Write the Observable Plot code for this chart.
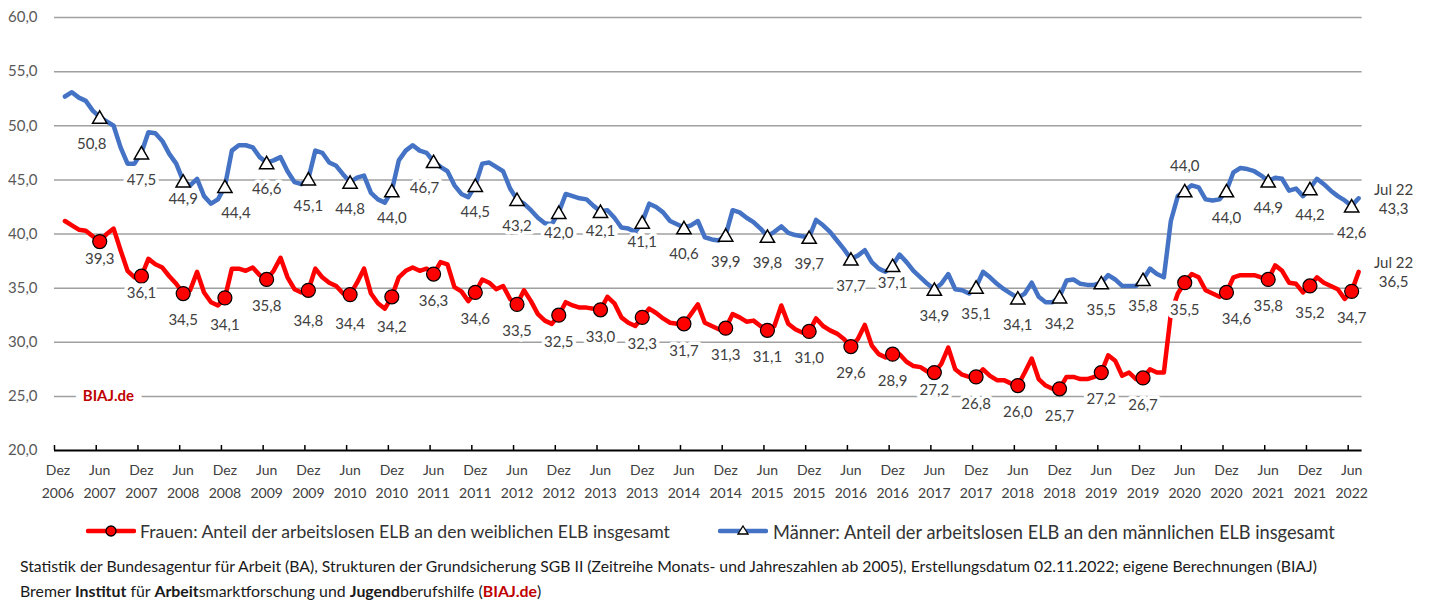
<!DOCTYPE html>
<html>
<head>
<meta charset="utf-8">
<script src="https://cdn.jsdelivr.net/npm/d3@7"></script>
<script src="https://cdn.jsdelivr.net/npm/@observablehq/plot@0.6"></script>
<style>
  html, body { margin: 0; padding: 0; background: #fff; }
  body { width: 1440px; height: 600px; overflow: hidden; position: relative; font-family: Lato, "Open Sans", sans-serif; }
  #chart { position: absolute; left: 0; top: 0; }
  .abs { position: absolute; white-space: nowrap; line-height: 1; }
  .leg { font-size: 16px; color: #333; }
  .foot { font-size: 14px; color: #1a1a1a; }
  .foot b { font-weight: 700; }
  .red { color: #c00000; }
</style>
</head>
<body>
<div id="chart"></div>
<svg class="abs" style="left:86px;top:522px" width="50" height="18">
  <line x1="2" y1="9" x2="48" y2="9" stroke="#ff0000" stroke-width="4.5" stroke-linecap="round"/>
  <circle cx="25" cy="9" r="5" fill="#ff0000" stroke="#000" stroke-width="1.3"/>
</svg>
<div id="leg1" class="abs leg" style="left:140px;top:523px">Frauen: Anteil der arbeitslosen ELB an den weiblichen ELB insgesamt</div>
<svg class="abs" style="left:718px;top:522px" width="50" height="18">
  <line x1="2" y1="9" x2="48" y2="9" stroke="#4472c4" stroke-width="4.5" stroke-linecap="round"/>
  <path d="M25,4 L30,12 L20,12 Z" fill="#fff" stroke="#000" stroke-width="1.3"/>
</svg>
<div id="leg2" class="abs leg" style="left:773px;top:523px">Männer: Anteil der arbeitslosen ELB an den männlichen ELB insgesamt</div>
<div id="foot1" class="abs foot" style="left:20px;top:558px">Statistik der Bundesagentur für Arbeit (BA), Strukturen der Grundsicherung SGB II (Zeitreihe Monats- und Jahreszahlen ab 2005), Erstellungsdatum 02.11.2022; eigene Berechnungen (BIAJ)</div>
<div id="foot2" class="abs foot" style="left:20px;top:583px">Bremer <b>Institut</b> für <b>Arbeit</b>smarktforschung und <b>Jugend</b>berufshilfe (<b class="red">BIAJ.de</b>)</div>
<script>
// Monthly values, Jan 2007 .. Jul 2022 (category index 1 .. 187; Dez 2006 = index 0)
const frauen = [
  41.2,40.8,40.4,40.3,39.8,39.3,40.0,40.5,38.5,36.6,36.0,36.1,
  37.7,37.2,36.9,36.1,35.4,34.5,34.8,36.5,34.6,33.7,33.4,34.1,
  36.8,36.8,36.6,36.9,36.2,35.8,36.6,37.8,36.0,34.9,34.6,34.8,
  36.8,36.0,35.5,35.2,34.5,34.4,35.5,36.8,34.5,33.6,33.1,34.2,
  36.0,36.6,36.9,36.6,36.8,36.3,37.4,37.2,35.1,34.7,33.8,34.6,
  35.8,35.5,34.9,35.2,34.0,33.5,34.8,33.8,32.6,32.0,31.7,32.5,
  33.7,33.4,33.2,33.2,33.1,33.0,34.2,33.6,32.3,31.8,31.5,32.3,
  33.1,32.7,32.2,31.8,31.7,31.7,32.6,33.5,31.8,31.5,31.2,31.3,
  32.6,32.3,31.9,32.0,31.5,31.1,31.5,33.4,31.7,31.2,30.9,31.0,
  32.2,31.5,31.1,30.8,30.3,29.6,30.3,31.6,29.7,28.9,28.6,28.9,
  28.9,28.2,27.8,27.7,27.3,27.2,28.0,29.5,27.5,27.0,26.8,26.8,
  27.5,26.9,26.5,26.5,26.2,26.0,27.2,28.5,26.6,26.0,25.7,25.7,
  26.8,26.8,26.6,26.6,26.8,27.2,28.8,28.3,26.9,27.2,26.6,26.7,
  27.5,27.2,27.2,32.6,34.5,35.5,36.3,36.0,34.8,34.5,34.2,34.6,
  36.0,36.2,36.2,36.2,36.0,35.8,37.1,36.6,35.5,35.4,34.6,35.2,
  36.0,35.5,35.2,34.9,34.0,34.7,36.5
];
const maenner = [
  52.7,53.1,52.6,52.3,51.4,50.8,50.4,50.0,48.0,46.5,46.5,47.5,
  49.4,49.3,48.6,47.4,46.5,44.9,44.5,45.1,43.5,42.8,43.2,44.4,
  47.7,48.2,48.2,48.0,47.1,46.6,46.8,47.1,45.8,44.8,44.6,45.1,
  47.7,47.5,46.6,46.3,45.5,44.8,45.2,45.4,43.8,43.2,42.9,44.0,
  46.8,47.7,48.2,47.7,47.5,46.7,46.2,45.8,44.5,43.7,43.4,44.5,
  46.5,46.6,46.2,45.8,44.2,43.2,42.8,42.2,41.5,41.0,40.9,42.0,
  43.7,43.5,43.3,43.2,42.6,42.1,42.2,41.5,40.6,40.5,40.2,41.1,
  42.8,42.5,42.0,41.2,40.9,40.6,40.8,41.2,39.7,39.5,39.4,39.9,
  42.2,42.0,41.5,41.1,40.5,39.8,40.2,40.7,40.1,39.9,39.8,39.7,
  41.3,40.8,40.2,39.4,38.6,37.7,38.0,38.5,37.4,36.8,36.5,37.1,
  38.1,37.4,36.6,36.0,35.4,34.9,35.4,36.3,34.9,34.8,34.5,35.1,
  36.5,36.0,35.4,34.9,34.5,34.1,34.5,35.5,34.2,33.7,33.7,34.2,
  35.7,35.8,35.4,35.3,35.3,35.5,36.2,35.8,35.2,35.2,35.2,35.8,
  36.8,36.3,36.0,41.2,43.5,44.0,44.5,44.3,43.2,43.1,43.2,44.0,
  45.7,46.1,46.0,45.8,45.4,44.9,45.2,45.1,44.0,44.2,43.5,44.2,
  45.1,44.6,44.0,43.5,43.1,42.6,43.3
];
const tickLabels = [
  "Dez 2006","Jun 2007","Dez 2007","Jun 2008","Dez 2008","Jun 2009","Dez 2009","Jun 2010",
  "Dez 2010","Jun 2011","Dez 2011","Jun 2012","Dez 2012","Jun 2013","Dez 2013","Jun 2014",
  "Dez 2014","Jun 2015","Dez 2015","Jun 2016","Dez 2016","Jun 2017","Dez 2017","Jun 2018",
  "Dez 2018","Jun 2019","Dez 2019","Jun 2020","Dez 2020","Jun 2021","Dez 2021","Jun 2022"
];
const yTicks = [20, 25, 30, 35, 40, 45, 50, 55, 60];
const lastLabel = "Jul 22";
const firstIndex = 1;      // Jan 2007
const categoryCount = 188; // Dez 2006 .. Jul 2022
const markerEvery = 6;

// label placement tweaks (pixels), keyed by category index
const blueDy = {18: 18, 72: 21, 78: 20, 84: 20, 120: 18, 162: -25};
const blueDx = {6: -8, 24: 11, 54: -9};
const redDy  = {6: 18, 12: 17, 36: 31, 42: 30, 48: 30, 126: 18};
const redDx  = {168: 10};

const fmt = v => v.toFixed(1).replace(".", ",");
const rows = frauen.map((f, k) => ({i: k + firstIndex, f, m: maenner[k]}));
const markerRows = rows.filter(d => d.i % markerEvery === 0);
const last = rows[rows.length - 1];
const X = d => d.i + 0.5;

function valueLabels(data, key, defDy, dyMap, dxMap) {
  const groups = d3.group(data, d => (dxMap[d.i] ?? 0) + "|" + (dyMap[d.i] ?? defDy));
  return Array.from(groups, ([k, arr]) => {
    const [dx, dy] = k.split("|").map(Number);
    return Plot.text(arr, {
      x: X, y: key, text: d => fmt(d[key]), dx, dy,
      fontSize: 15, fill: "#404040", stroke: "white", strokeWidth: 7, paintOrder: "stroke"
    });
  });
}

const chart = Plot.plot({
  width: 1440, height: 505,
  marginLeft: 54, marginRight: 78.4, marginTop: 17, marginBottom: 55,
  x: {domain: [0, categoryCount], axis: null},
  y: {domain: [20, 60], axis: null},
  style: {fontFamily: "Lato, 'Open Sans', sans-serif", background: "#fff", overflow: "visible"},
  marks: [
    Plot.ruleY(yTicks.filter(t => t > 20), {stroke: "#a0a0a0", strokeWidth: 1.5}),
    Plot.text(yTicks, {x: 0, y: d => d, text: d => fmt(d), textAnchor: "end", dx: -17, fontSize: 15, fill: "#595959"}),
    Plot.text(["BIAJ.de"], {x: 7.75, y: 25, text: d => d, fontSize: 15, fontWeight: "bold", fill: "#c00000", stroke: "white", strokeWidth: 16, paintOrder: "stroke"}),
    Plot.ruleY([20], {stroke: "#000", strokeWidth: 2}),
    Plot.ruleX(d3.range(0, categoryCount, markerEvery), {y1: 20, y2: 20.46, stroke: "#000", strokeWidth: 1.5}),
    Plot.text(tickLabels, {
      x: (d, k) => k * markerEvery + 0.5, y: 20, text: d => d.replace(" ", "\n"),
      dy: 28.5, lineHeight: 1.64, fontSize: 14, fill: "#404040"
    }),
    Plot.line(rows, {x: X, y: "m", stroke: "#4472c4", strokeWidth: 4.5, strokeLinejoin: "round", strokeLinecap: "round"}),
    Plot.line(rows, {x: X, y: "f", stroke: "#ff0000", strokeWidth: 4.5, strokeLinejoin: "round", strokeLinecap: "round"}),
    Plot.dot(markerRows, {x: X, y: "m", symbol: "triangle", r: 5.3, dy: 2, fill: "#fff", stroke: "#000", strokeWidth: 1.5}),
    Plot.dot(markerRows, {x: X, y: "f", r: 7, fill: "#ff0000", stroke: "#000", strokeWidth: 1.2}),
    ...valueLabels(markerRows, "m", 27, blueDy, blueDx),
    ...valueLabels(markerRows, "f", 27, redDy, redDx),
    Plot.text([last], {x: X, y: "m", text: d => lastLabel + "\n" + fmt(d.m), dx: 35, lineHeight: 1.27, fontSize: 15, fill: "#404040"}),
    Plot.text([last], {x: X, y: "f", text: d => lastLabel + "\n" + fmt(d.f), dx: 35, lineHeight: 1.27, fontSize: 15, fill: "#404040"})
  ]
});
document.getElementById("chart").appendChild(chart);

// fit text widths to the reference layout
function fit(id, target) {
  const el = document.getElementById(id);
  const fs = parseFloat(getComputedStyle(el).fontSize);
  const w = el.getBoundingClientRect().width;
  if (w > 0) el.style.fontSize = (fs * target / w) + "px";
}
fit("leg1", 530);
fit("leg2", 562);
fit("foot1", 1298);
fit("foot2", 522);
</script>
</body>
</html>
